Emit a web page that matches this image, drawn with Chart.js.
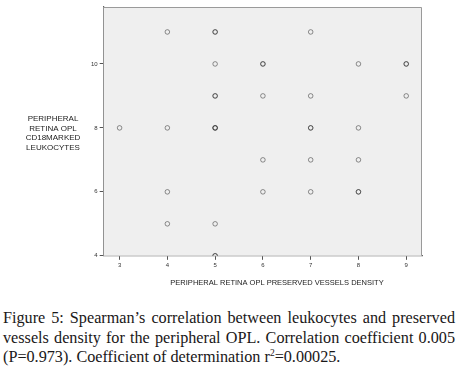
<!DOCTYPE html>
<html>
<head>
<meta charset="utf-8">
<script src="https://cdn.jsdelivr.net/npm/chart.js@4"></script>
<style>
  body { margin: 0; background: #fff; width: 459px; height: 378px; overflow: hidden; }
  #wrap { position: absolute; left: 0; top: 0; width: 459px; height: 292px; }
  #caption { position: absolute; left: 3px; top: 309px; width: 452px;
    font-family: "Liberation Serif", "DejaVu Serif", serif; font-size: 16.2px; line-height: 19.5px; color: #1a1718; }
  #caption div.j { text-align: justify; text-align-last: justify; }
  sup { font-size: 9.5px; line-height: 0; vertical-align: 6px; }
</style>
</head>
<body>
<div id="wrap"><canvas id="c" width="459" height="292"></canvas></div>
<div id="caption">
  <div class="j">Figure 5: Spearman’s correlation between leukocytes and preserved</div>
  <div class="j">vessels density for the peripheral OPL. Correlation coefficient 0.005</div>
  <div>(P=0.973). Coefficient of determination r<sup>2</sup>=0.00025.</div>
</div>
<script>
// preserved vessels density (x) vs CD18 marked leukocytes (y); repeated pairs = overlapping cases
const vesselsDensity = [3, 4, 4, 4, 4, 5, 5, 5, 5, 5, 5, 5, 5, 5, 5, 5, 6, 6, 6, 6, 6, 7, 7, 7, 7, 7, 7, 8, 8, 8, 8, 8, 9, 9, 9]
const leukocytes     = [8, 11, 8, 6, 5, 11, 11, 10, 9, 9, 8, 8, 5, 4, 4, 8, 10, 10, 9, 7, 6, 11, 9, 8, 8, 7, 6, 10, 8, 7, 6, 6, 10, 10, 9]
const xTicks = [3, 4, 5, 6, 7, 8, 9]
const yTicks = [4, 6, 8, 10]
const xTitle = 'PERIPHERAL RETINA OPL PRESERVED VESSELS DENSITY'
const yTitle = ['PERIPHERAL', 'RETINA OPL', 'CD18MARKED', 'LEUKOCYTES']

const pts = vesselsDensity.map((x, i) => ({x: x, y: leukocytes[i]}))

const frame = {
  id: 'frame',
  beforeDatasetsDraw(chart) {
    const a = chart.chartArea, ctx = chart.ctx
    ctx.save()
    ctx.fillStyle = '#efefef'
    ctx.fillRect(a.left, a.top, a.right - a.left, a.bottom - a.top)
    ctx.strokeStyle = '#9a9a9a'
    ctx.lineWidth = 1
    ctx.beginPath()
    ctx.moveTo(a.left, a.top + 0.5); ctx.lineTo(a.right - 0.5, a.top + 0.5); ctx.lineTo(a.right - 0.5, a.bottom)
    ctx.stroke()
    ctx.restore()
  },
  afterDraw(chart) {
    const a = chart.chartArea, ctx = chart.ctx
    ctx.save()
    ctx.fillStyle = '#222'
    ctx.textAlign = 'center'
    ctx.textBaseline = 'middle'
    ctx.font = '7.5px "Liberation Sans", Arial, sans-serif'
    ctx.fillText(xTitle, 277, 283)
    ctx.font = '8px "Liberation Sans", Arial, sans-serif'
    yTitle.forEach((t, i) => ctx.fillText(t, 53, 119 + i * 9.5))
    ctx.restore()
  }
}

const eixo = (min, max, ticks) => ({
  type: 'linear', min: min, max: max,
  afterBuildTicks: s => { s.ticks = ticks.map(v => ({value: v})) },
  ticks: {color: '#333', font: {size: 6, family: '"Liberation Sans", Arial, sans-serif'}, padding: 2},
  grid: {drawOnChartArea: false, color: '#555', tickLength: 4},
  border: {color: '#666', width: 1.2}
})

new Chart(document.getElementById('c'), {
  type: 'scatter',
  data: {datasets: [{
    data: pts,
    pointStyle: 'circle',
    pointRadius: 2.3,
    pointBorderWidth: 1,
    borderColor: 'rgba(40,40,40,0.5)',
    backgroundColor: 'rgba(0,0,0,0)'
  }]},
  plugins: [frame],
  options: {
    responsive: false,
    animation: false,
    events: [],
    layout: {padding: {left: 89, right: 37, top: 7, bottom: 21}},
    plugins: {legend: {display: false}, tooltip: {enabled: false}},
    scales: {
      x: eixo(2.667, 9.33, xTicks),
      y: eixo(4, 11.78, yTicks)
    }
  }
})
</script>
</body>
</html>
